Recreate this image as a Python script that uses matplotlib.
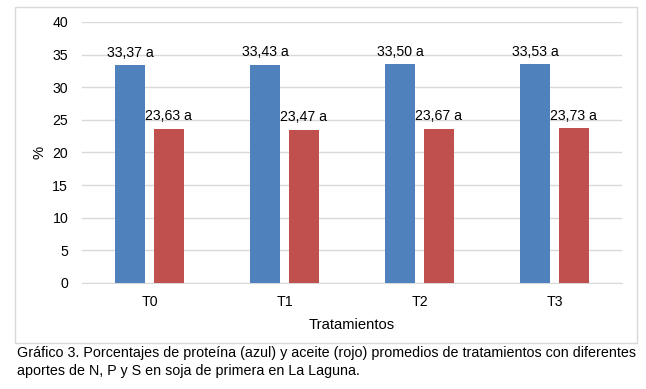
import numpy as np
import matplotlib.pyplot as plt
from matplotlib.patches import Rectangle

# datos del gráfico
tratamientos = ['T0', 'T1', 'T2', 'T3']
proteina = [33.37, 33.43, 33.50, 33.53]  # azul
aceite = [23.63, 23.47, 23.67, 23.73]  # rojo
etiquetas_proteina = ['33,37 a', '33,43 a', '33,50 a', '33,53 a']
etiquetas_aceite = ['23,63 a', '23,47 a', '23,67 a', '23,73 a']
yticks = [0, 5, 10, 15, 20, 25, 30, 35, 40]

AZUL = '#4F81BD'
ROJO = '#C0504D'
GRIS = '#D9D9D9'

plt.rcParams['font.family'] = ['Liberation Sans', 'DejaVu Sans']

fig = plt.figure(figsize=(6.46, 3.89), dpi=100)
ax = fig.add_axes([0.127, 0.2725, 0.836, 0.671])

# marco del gráfico
fig.patches.append(Rectangle((0.0232, 0.1183), 0.963, 0.8638, transform=fig.transFigure,
                             fill=False, edgecolor=GRIS, linewidth=1.0))

x = np.arange(len(tratamientos))
ancho = 0.22
b1 = ax.bar(x - 0.143, proteina, ancho, color=AZUL, zorder=3)
b2 = ax.bar(x + 0.142, aceite, ancho, color=ROJO, zorder=3)

for barras, etiquetas in [(b1, etiquetas_proteina), (b2, etiquetas_aceite)]:
    for rect, txt in zip(barras, etiquetas):
        ax.annotate(txt, (rect.get_x() + rect.get_width() / 2, rect.get_height()),
                    xytext=(0, 4), textcoords='offset points', ha='center', va='bottom',
                    fontsize=10.2)

ax.set_xlim(-0.5, len(tratamientos) - 0.5)
ax.set_ylim(0, 40)
ax.set_yticks(yticks)
ax.set_xticks(x)
ax.set_xticklabels(tratamientos)
ax.tick_params(axis='both', length=0, labelsize=10.2)
ax.tick_params(axis='y', pad=10)
ax.tick_params(axis='x', pad=9)
ax.grid(axis='y', color=GRIS, linewidth=1.0, zorder=0)
for s in ['top', 'right', 'left']:
    ax.spines[s].set_visible(False)
ax.spines['bottom'].set_color(GRIS)
ax.set_xlabel('Tratamientos', fontsize=10.6, labelpad=6)
ax.set_ylabel('%', fontsize=10.6, labelpad=4)

fig.text(0.026, 0.092, 'Gráfico 3. Porcentajes de proteína (azul) y aceite (rojo) promedios de tratamientos con diferentes',
         fontsize=10.3, va='center')
fig.text(0.026, 0.046, 'aportes de N, P y S en soja de primera en La Laguna.', fontsize=10.3, va='center')

fig.savefig('out.png', dpi=100)
